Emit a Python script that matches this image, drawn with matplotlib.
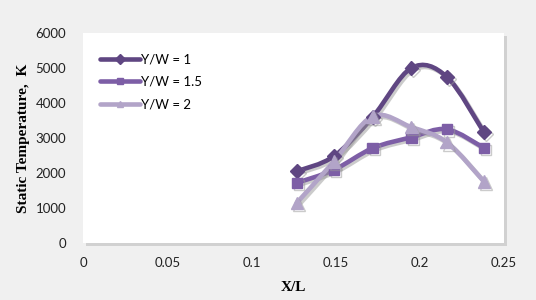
import matplotlib.pyplot as plt
import matplotlib.patheffects as pe
from matplotlib.path import Path
from matplotlib.patches import PathPatch
from matplotlib.lines import Line2D
import numpy as np

# Données
x_l = [0.127, 0.149, 0.172, 0.195, 0.216, 0.238]
yw_1 = [2050, 2480, 3600, 5000, 4750, 3170]
yw_15 = [1720, 2090, 2710, 3020, 3250, 2720]
yw_2 = [1150, 2330, 3620, 3310, 2880, 1760]

series = [("Y/W = 1", yw_1, "#5f4682", "D", 7),
          ("Y/W = 1.5", yw_15, "#7d5ea6", "s", 7.5),
          ("Y/W = 2", yw_2, "#b2a4c8", "^", 9)]

x_ticks = [0, 0.05, 0.1, 0.15, 0.2, 0.25]
y_ticks = [0, 1000, 2000, 3000, 4000, 5000, 6000]


def courbe_lissee(xs, ys):
    # courbe de Bézier type Catmull-Rom (lissage façon tableur)
    p = np.column_stack([xs, ys]).astype(float)
    verts = [p[0]]
    codes = [Path.MOVETO]
    n = len(p)
    for i in range(n - 1):
        p0 = p[i - 1] if i > 0 else p[i]
        p3 = p[i + 2] if i + 2 < n else p[i + 1]
        c1 = p[i] + (p[i + 1] - p0) / 6
        c2 = p[i + 1] - (p3 - p[i]) / 6
        verts += [c1, c2, p[i + 1]]
        codes += [Path.CURVE4] * 3
    return Path(verts, codes)


fig = plt.figure(figsize=(5.36, 3.0), dpi=100, facecolor="#f0f0f0")
ax = fig.add_axes([83 / 536, 1 - 243 / 300, (504 - 83) / 536, (243 - 33) / 300])
ax.set_facecolor("white")
ax.patch.set_path_effects([pe.SimplePatchShadow(offset=(2, -2), shadow_rgbFace="#999999", alpha=0.35),
                           pe.Normal()])

ombre = [pe.SimpleLineShadow(offset=(1.5, -1.5), shadow_color="#999999", alpha=0.5), pe.Normal()]

handles = []
for nom, vals, couleur, marq, taille in series:
    patch = PathPatch(courbe_lissee(x_l, vals), facecolor="none", edgecolor=couleur,
                      lw=3.3, capstyle="round", joinstyle="round", zorder=2)
    patch.set_path_effects(ombre)
    ax.add_patch(patch)
    ax.plot(x_l, vals, linestyle="none", marker=marq, markersize=taille,
            color=couleur, markeredgecolor=couleur, zorder=3, path_effects=ombre)
    handles.append(Line2D([], [], color=couleur, lw=3.3, marker=marq, markersize=5,
                          solid_capstyle="round", label=nom))

ax.set_xlim(0, 0.25)
ax.set_ylim(0, 6000)
ax.set_xticks(x_ticks)
ax.set_xticklabels(["0", "0.05", "0.1", "0.15", "0.2", "0.25"])
ax.set_yticks(y_ticks)
for s in ax.spines.values():
    s.set_visible(False)
ax.tick_params(length=0, labelsize=9.5, colors="#222222", pad=10)
ax.tick_params(axis="y", pad=12)
for lab in ax.get_xticklabels() + ax.get_yticklabels():
    lab.set_family("Lato")

ax.set_xlabel("X/L", family="Liberation Serif", fontweight="bold", fontsize=11, labelpad=9)
ax.set_ylabel("Static Temperature,  K", family="Liberation Serif", fontweight="bold",
              fontsize=11, labelpad=4)

leg = ax.legend(handles=handles, loc="upper left", bbox_to_anchor=(0.012, 0.96), frameon=False,
                handlelength=3.0, handletextpad=0.1, labelspacing=0.8,
                prop={"family": "Lato", "size": 9.5})

fig.savefig("out.png", dpi=100, facecolor=fig.get_facecolor())
